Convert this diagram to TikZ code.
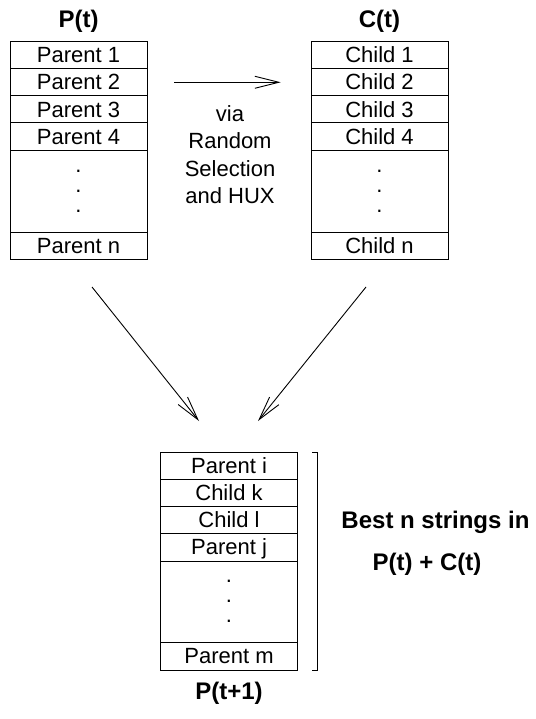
\documentclass[tikz,border=0pt]{standalone}
\usepackage{fontspec}
\setmainfont{Liberation Sans}
\usetikzlibrary{arrows.meta}
\begin{document}
\begin{tikzpicture}[x=1pt,y=-1pt,
  cell/.style={draw, line width=0.9pt, minimum width=137pt, inner sep=0pt, outer sep=0pt,
    font=\fontsize{22}{26}\selectfont, text height=15.8pt, text depth=0pt},
  dotcell/.style={draw, line width=0.9pt, minimum width=137pt, inner sep=0pt, outer sep=0pt,
    font=\fontsize{22}{20}\selectfont, align=center},
  title/.style={font=\bfseries\fontsize{24}{28}\selectfont, anchor=base},
  plain/.style={font=\fontsize{22}{27.3}\selectfont, inner sep=0pt},
  flow/.style={line width=0.9pt, -{Straight Barb[length=24pt,width=12pt,line width=0.9pt]}}]
\useasboundingbox (0,0) rectangle (535,719);

% Titles
\node[title] (tp) at (78.5,28) {P(t)};
\node[title] (tc) at (379.5,28) {C(t)};
\node[title] (tn) at (229,699) {P(t+1)};

% P(t)
\node[cell, minimum height=27.3pt] (p1) at (78.5,54.65) {Parent 1};
\node[cell, minimum height=27.3pt] (p2) at (78.5,81.95) {Parent 2};
\node[cell, minimum height=27.3pt] (p3) at (78.5,109.25) {Parent 3};
\node[cell, minimum height=27.3pt] (p4) at (78.5,136.55) {Parent 4};
\node[dotcell, minimum height=81.8pt] (pd) at (78.5,191.1) {.\\.\\.};
\node[cell, minimum height=27pt] (pn) at (78.5,245.5) {Parent n};

% C(t)
\node[cell, minimum height=27.3pt] (c1) at (379.5,54.65) {Child 1};
\node[cell, minimum height=27.3pt] (c2) at (379.5,81.95) {Child 2};
\node[cell, minimum height=27.3pt] (c3) at (379.5,109.25) {Child 3};
\node[cell, minimum height=27.3pt] (c4) at (379.5,136.55) {Child 4};
\node[dotcell, minimum height=81.8pt] (cd) at (379.5,191.1) {.\\.\\.};
\node[cell, minimum height=27pt] (cn) at (379.5,245.5) {Child n};

% P(t+1)
\node[cell, minimum height=27pt] (q1) at (229,465.5) {Parent i};
\node[cell, minimum height=27pt] (q2) at (229,492.5) {Child k};
\node[cell, minimum height=27pt] (q3) at (229,519.5) {Child l};
\node[cell, minimum height=28pt] (q4) at (229,547) {Parent j};
\node[dotcell, minimum height=81pt] (qd) at (229,601.5) {.\\.\\.};
\node[cell, minimum height=28pt] (qn) at (229,656) {Parent m};

% Bracket
\draw[line width=0.9pt] (312,452) -- (317,452) -- (317,670) -- (312,670);

% Labels
\node[plain, align=center, anchor=south] (via) at (230,204) {via\\Random\\Selection\\and HUX};
\node[title] (best) at (435.5,528) {Best n strings in};
\node[title] (sum) at (427,570) {P(t) + C(t)};

% Arrows
\coordinate (hs) at (174,82.3);
\coordinate (he) at (280.7,82.3);
\coordinate (ls) at (92,287);
\coordinate (le) at (199,421);
\coordinate (rs) at (366,287);
\coordinate (re) at (258,421);
\draw[flow] (hs) -- (he);
\draw[flow] (ls) -- (le);
\draw[flow] (rs) -- (re);
\end{tikzpicture}
\end{document}
